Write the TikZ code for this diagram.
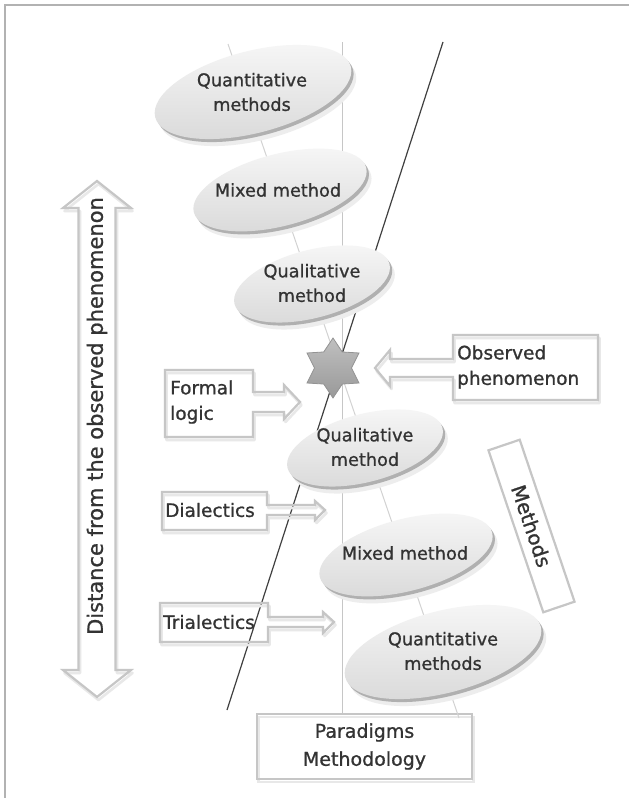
\documentclass[tikz,border=0pt]{standalone}
\usepackage{fontspec}
\setmainfont{DejaVu Sans}
\newfontfamily\hvfont{DejaVu Sans}[FakeBold=1.0]
\usetikzlibrary{shapes.geometric,calc}
\newcommand\ellbody[3]{%
  \begin{scope}[shift={(#1)},rotate=14.5]
    \fill[gray!14] (3,8) ellipse [x radius=#2pt, y radius=#3pt];
    \fill[gray!62] (1.5,3.5) ellipse [x radius=#2pt, y radius=#3pt];
    \shade[top color=gray!6, bottom color=gray!30] (0,0) ellipse [x radius=#2pt, y radius=#3pt];
  \end{scope}}
\newcommand\calloutpath[1]{%
  \draw[gray!18, line width=2.6pt, line join=round, shift={(1.5,3)}] #1;
  \draw[calloutline] #1;}
\begin{document}
\begin{tikzpicture}[x=1pt,y=-1pt,
  elltext/.style={align=center, text=black!80, font=\hvfont\fontsize{17.7}{24.5}\selectfont, inner sep=0},
  boxtext/.style={align=left, text=black!80, font=\hvfont\fontsize{18.5}{25.5}\selectfont, inner sep=0, anchor=west},
  partext/.style={align=center, text=black!80, font=\hvfont\fontsize{19}{28}\selectfont, inner sep=0},
  disttext/.style={text=black!80, font=\hvfont\fontsize{21}{25}\selectfont, rotate=90, inner sep=0},
  methtext/.style={text=black!80, font=\hvfont\fontsize{20}{24}\selectfont, inner sep=0},
  calloutline/.style={draw=gray!45, line width=2.2pt, line join=miter},
  guide/.style={gray!45, line width=1pt},
  darkline/.style={black!75, line width=1.2pt},
]
\useasboundingbox (0,0) rectangle (629,798);
\fill[white] (0,0) rectangle (629,798);
% frame
\draw[gray!60, line width=1.5pt] (5,798) -- (5,5) -- (629,5);

% Paradigms box
\draw[gray!18, line width=2.6pt] (258.5,717) rectangle (473.5,782);
\node[draw=gray!45, line width=2.2pt, minimum width=215, minimum height=65, inner sep=0, partext] (par) at (364.5,746.5) {Paradigms\\Methodology};

% guide lines
\coordinate (vt) at (342,42);
\coordinate (lt) at (228,44);
\coordinate (lb) at (459,718);
\coordinate (dt) at (443,42);
\coordinate (db) at (227,710);
\draw[guide] (vt) -- (vt |- par.north);
\draw[guide, gray!35] (lt) -- (lb);
\draw[darkline] (dt) -- (db);

% ellipses
\coordinate (e1) at (253,92);
\coordinate (e2) at (280,190);
\coordinate (e3) at (312,284);
\coordinate (e4) at (365,448);
\coordinate (e5) at (406,555);
\coordinate (e6) at (443,652);
\ellbody{e1}{101}{41}
\ellbody{e2}{89}{36}
\ellbody{e3}{80}{34}
\ellbody{e4}{80}{34}
\ellbody{e5}{89}{36}
\ellbody{e6}{101}{41}
\node[elltext] (t1) at (252,92) {Quantitative\\methods};
\node[elltext] (t2) at (278,190) {Mixed method};
\node[elltext] (t3) at (312,283) {Qualitative\\method};
\node[elltext] (t4) at (365,447) {Qualitative\\method};
\node[elltext] (t5) at (405,553) {Mixed method};
\node[elltext] (t6) at (443,651) {Quantitative\\methods};

% star
\node[star, star points=6, star point ratio=1.62, minimum size=60pt, inner sep=0,
      top color=gray!50, bottom color=gray!80, draw=gray!85, line width=0.8pt] (star) at (333,368) {};

% callouts
\calloutpath{(165,370) -- (253,370) -- (253,392) -- (284,392) -- (284,385) -- (300,402) -- (284,419) -- (284,412) -- (253,412) -- (253,437) -- (165,437) -- cycle}
\calloutpath{(598,335) -- (453,335) -- (453,359) -- (390,359) -- (390,350) -- (375,368) -- (390,386) -- (390,377) -- (453,377) -- (453,400) -- (598,400) -- cycle}
\calloutpath{(162,492) -- (267,492) -- (267,505) -- (315,505) -- (315,501) -- (325,510) -- (315,520) -- (315,515) -- (267,515) -- (267,530) -- (162,530) -- cycle}
\calloutpath{(160,603) -- (268,603) -- (268,617) -- (323,617) -- (323,612) -- (334,622) -- (323,633) -- (323,627) -- (268,627) -- (268,642) -- (160,642) -- cycle}
\calloutpath{(97,181) -- (131,208) -- (115.5,208) -- (115.5,670) -- (131,670) -- (97,697) -- (63,670) -- (78.5,670) -- (78.5,208) -- (63,208) -- cycle}

\node[boxtext] (formal) at (170,402) {Formal\\logic};
\node[boxtext] (obs) at (457,367) {Observed\\phenomenon};
\node[boxtext] (dial) at (165,510) {Dialectics};
\node[boxtext] (trial) at (163,622) {Trialectics};
\node[disttext] (dist) at (97,416) {Distance from the observed phenomenon};

% Methods box
\node[draw=gray!45, line width=2.2pt, rotate=-71.3, minimum width=171, minimum height=33, inner sep=0, methtext] (meth) at (531.5,526) {Methods};
\end{tikzpicture}
\end{document}
